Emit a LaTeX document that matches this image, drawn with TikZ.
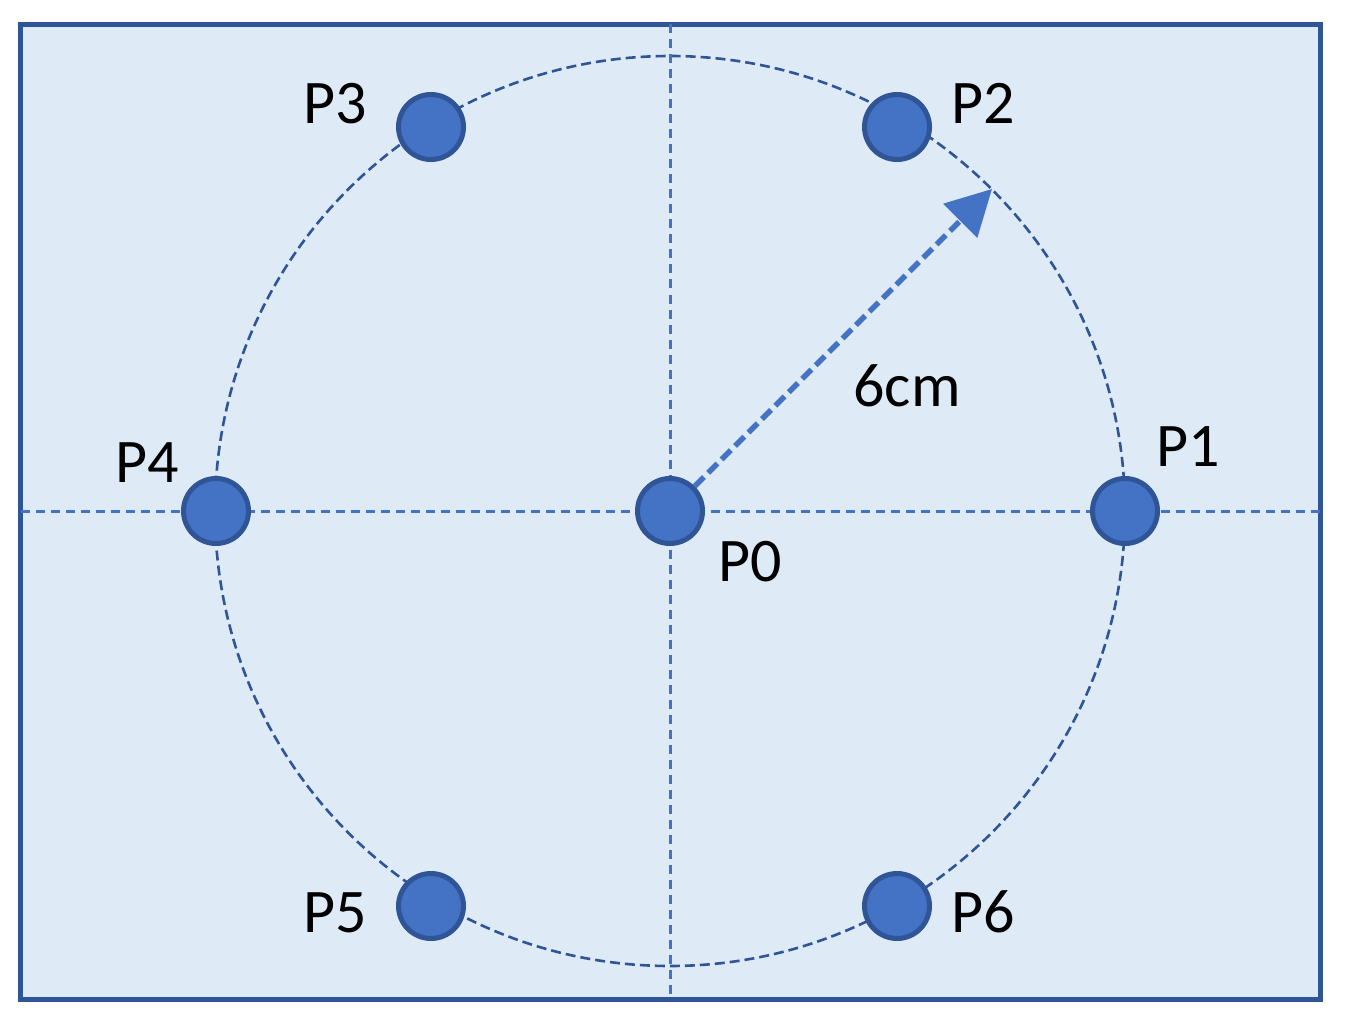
\documentclass[tikz,border=0pt]{standalone}
\usepackage{fontspec}
\setmainfont{Carlito}
\usetikzlibrary{arrows.meta}
\definecolor{bgblue}{HTML}{DEEBF7}
\definecolor{darkblue}{HTML}{2F5597}
\definecolor{midblue}{HTML}{4472C4}
\tikzset{
  frame/.style={draw=darkblue, fill=bgblue, line width=5pt},
  crossline/.style={draw=midblue, line width=3pt, dash pattern=on 9pt off 6pt},
  orbit/.style={draw=darkblue, line width=2.6pt, dash pattern=on 10pt off 5pt},
  radiusarrow/.style={draw=midblue, line width=5.5pt, dash pattern=on 13pt off 6pt,
    -{Triangle[length=45pt,width=47pt]}},
  dot/.style={circle, draw=darkblue, fill=midblue, line width=5pt, minimum size=65pt, inner sep=0pt},
  lbl/.style={anchor=base, inner sep=0pt, font=\fontsize{62}{74}\selectfont}
}
\begin{document}
\begin{tikzpicture}[x=1pt,y=-1pt]
\useasboundingbox (0,0) rectangle (1346,1024);
\draw[frame] (20.5,24.5) rectangle (1320,999.5);
\draw[orbit] (670,511) circle[radius=455];
\coordinate (vtop) at (670,24.5);
\coordinate (vbot) at (670,999.5);
\coordinate (hleft) at (20.5,511);
\coordinate (hright) at (1320,511);
\draw[crossline] (vtop) -- (vbot);
\draw[crossline] (hleft) -- (hright);
\node[dot] (P0) at (670,511) {};
\node[dot] (P1) at (1125,511) {};
\node[dot] (P2) at (897,127) {};
\node[dot] (P3) at (431,127) {};
\node[dot] (P4) at (216,511) {};
\node[dot] (P5) at (431,906) {};
\node[dot] (P6) at (897,906) {};
\coordinate (tip) at (992,189);
\draw[radiusarrow] (P0) -- (tip);
\node[lbl] (L0) at (750,581) {P0};
\node[lbl] (L1) at (1188,466) {P1};
\node[lbl] (L2) at (983,124) {P2};
\node[lbl] (L3) at (335,124) {P3};
\node[lbl] (L4) at (147,482) {P4};
\node[lbl] (L5) at (335,932) {P5};
\node[lbl] (L6) at (983,932) {P6};
\node[lbl] (Lr) at (907,406) {6cm};
\end{tikzpicture}
\end{document}
